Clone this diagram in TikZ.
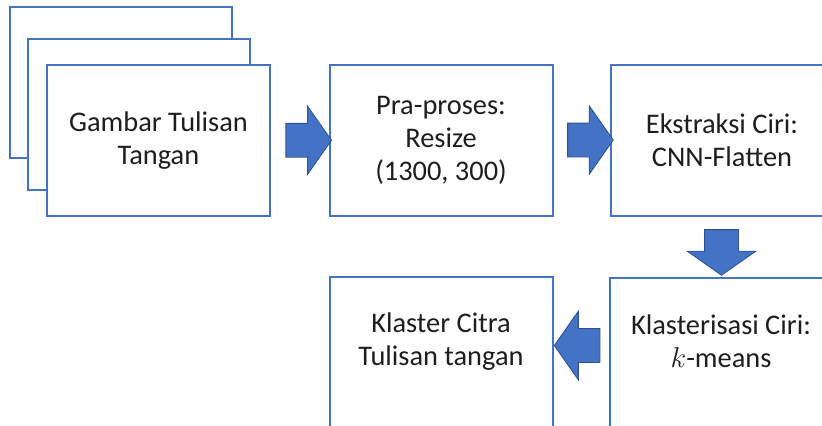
\documentclass[tikz,border=0pt]{standalone}
\usepackage{fontspec}
\setmainfont{Carlito}
\usetikzlibrary{positioning,calc,shapes.arrows}
\definecolor{frameblue}{RGB}{68,114,196}
\definecolor{arrowfill}{RGB}{68,114,196}
\definecolor{arrowedge}{RGB}{47,82,143}
\definecolor{inktext}{RGB}{30,30,30}
\tikzset{
  stepbox/.style={draw=frameblue,line width=1pt,fill=white,minimum width=111.5pt,minimum height=75.5pt,inner sep=0pt},
  boxtext/.style={align=center,text=inktext,font=\fontsize{14.2}{16.5}\selectfont},
  flow/.style={single arrow,fill=arrowfill,draw=arrowedge,line width=0.4pt,minimum height=22.5pt,minimum width=34pt,
    single arrow head extend=8.75pt,single arrow tip angle=110,inner sep=8.25pt},
}
\begin{document}
\begin{tikzpicture}[x=0.5pt,y=-0.5pt]
  \useasboundingbox (0,0) rectangle (822,425);
  \clip (0,0) rectangle (822,425);
  % stack of input images
  \node[stepbox,minimum width=111pt] (back) at (121,82) {};
  \node[stepbox,minimum width=111pt] (mid) at (139,114) {};
  \node[stepbox,boxtext] (img) at (158.5,140.5) {Gambar Tulisan\\Tangan};
  % top row
  \node[stepbox,boxtext] (pra) at (441,140) {Pra-proses:\\Resize\\(1300, 300)};
  \node[stepbox,boxtext] (ciri) at (722,140) {Ekstraksi Ciri:\\CNN-Flatten};
  % bottom row (boxes run past the lower edge)
  \node[stepbox] (klas) at (721,353) {};
  \node[boxtext] (klasT) at (721,341.5) {Klasterisasi Ciri:\\$k$-means};
  \node[stepbox] (hasil) at (441,352) {};
  \node[boxtext] (hasilT) at (441,341.5) {Klaster Citra\\Tulisan tangan};
  % block arrows between the steps
  \node[flow] (a1) at ($(img.east)!0.5!(pra.west)+(3,0)$) {};
  \node[flow] (a2) at ($(pra.east)!0.5!(ciri.west)+(3,0)$) {};
  \node[flow,shape border rotate=270] (a3) at ($(ciri.south)!0.5!(klas.north)$) {};
  \node[flow,shape border rotate=180] (a4) at ($(klas.west)!0.5!(hasil.east)+(2,-7)$) {};
\end{tikzpicture}
\end{document}
